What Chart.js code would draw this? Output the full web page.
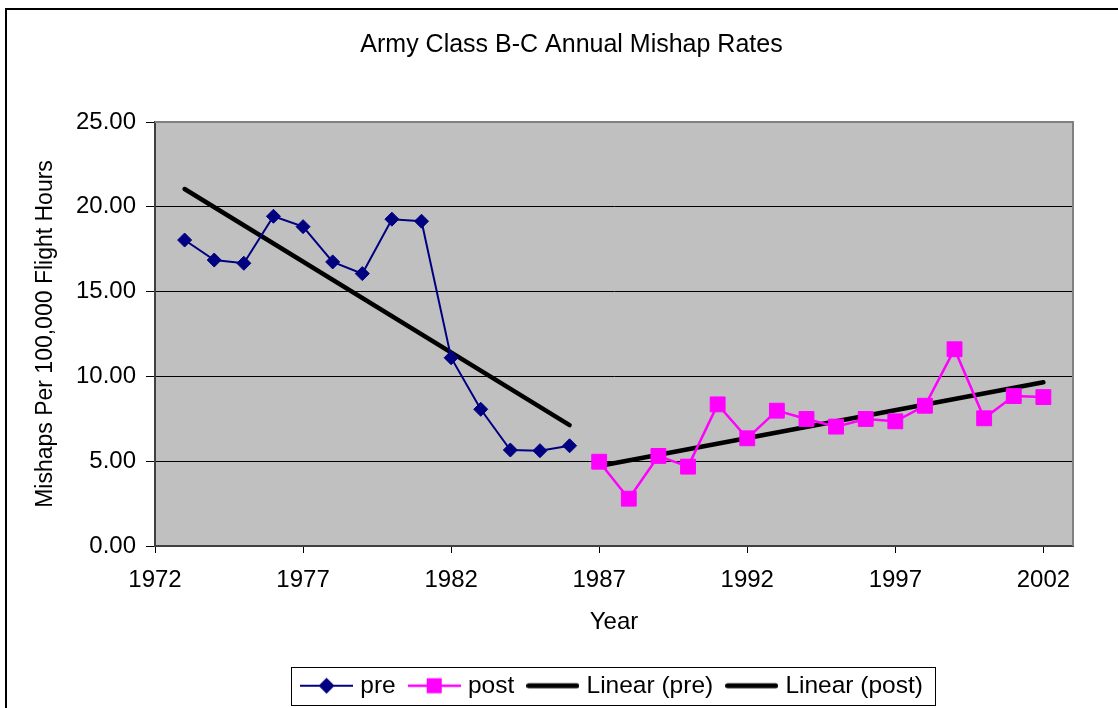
<!DOCTYPE html>
<html><head><meta charset="utf-8">
<script src="https://cdn.jsdelivr.net/npm/chart.js@4.4.1/dist/chart.umd.min.js"></script>
<style>html,body{margin:0;padding:0;background:#fff;} #wrap{width:1118px;height:708px;}</style>
</head><body><div id="wrap"><canvas id="c" width="1118" height="708"></canvas></div>
<script>
const preYears = [1973,1974,1975,1976,1977,1978,1979,1980,1981,1982,1983,1984,1985,1986];
const preRates = [18.04,16.86,16.67,19.44,18.83,16.75,16.06,19.27,19.15,11.10,8.06,5.66,5.62,5.91];
const postYears = [1987,1988,1989,1990,1991,1992,1993,1994,1995,1996,1997,1998,1999,2000,2001,2002];
const postRates = [4.97,2.79,5.31,4.68,8.35,6.35,7.98,7.49,7.04,7.49,7.35,8.27,11.60,7.53,8.84,8.78];
const trendPreYears = [1973,1986];
const trendPreRates = [21.05,7.13];
const trendPostYears = [1987,2002];
const trendPostRates = [4.72,9.65];
const xTickValues = [1972,1977,1982,1987,1992,1997,2002];
const seriesLabels = ['pre','post','Linear (pre)','Linear (post)'];
const chartTitle = 'Army Class B-C Annual Mishap Rates';
const xTitle = 'Year';
const yTitle = 'Mishaps Per 100,000 Flight Hours';

const FONT = "'Liberation Sans', Arial, sans-serif";
const pts = (xs, ys) => xs.map((x, i) => ({x: x, y: ys[i]}));

function makeSwatch(color, lineW, marker) {
  const cv = document.createElement('canvas'); cv.width = 53; cv.height = 24;
  const g = cv.getContext('2d');
  g.strokeStyle = color; g.lineWidth = lineW; g.lineCap = marker ? 'butt' : 'round';
  g.beginPath();
  g.moveTo(marker ? 0 : lineW / 2, 12); g.lineTo(marker ? 53 : 53 - lineW / 2, 12); g.stroke();
  g.fillStyle = color;
  if (marker === 'diamond') { g.beginPath(); g.moveTo(18.5, 12); g.lineTo(26.5, 4); g.lineTo(34.5, 12); g.lineTo(26.5, 20); g.closePath(); g.fill(); }
  if (marker === 'square') { g.fillRect(19, 4.5, 15, 15); }
  return cv;
}
const swatches = [
  makeSwatch('#000080', 2, 'diamond'),
  makeSwatch('#FF00FF', 2.5, 'square'),
  makeSwatch('#000000', 5, null),
  makeSwatch('#000000', 5, null)
];

const framePlugin = {
  id: 'frame',
  afterLayout(chart) {
    const ca = chart.chartArea;
    if (chart.legend) { chart.legend.left = ca.left; chart.legend.right = ca.right; }
    if (chart.titleBlock) { chart.titleBlock.left = 25; chart.titleBlock.right = 1118; }
  },
  beforeDraw(chart) {
    const {ctx, chartArea: ca} = chart;
    ctx.save();
    ctx.fillStyle = '#fff'; ctx.fillRect(0, 0, chart.width, chart.height);
    ctx.strokeStyle = '#000'; ctx.lineWidth = 2;
    ctx.strokeRect(6, 9, 1300, 900);
    ctx.fillStyle = '#C0C0C0';
    ctx.fillRect(ca.left, ca.top, ca.right - ca.left, ca.bottom - ca.top);
    ctx.restore();
  },
  beforeDatasetsDraw(chart) {
    const {ctx, chartArea: ca} = chart;
    ctx.save();
    ctx.strokeStyle = '#808080'; ctx.lineWidth = 2;
    ctx.beginPath();
    ctx.moveTo(ca.left, ca.top); ctx.lineTo(ca.right, ca.top); ctx.lineTo(ca.right, ca.bottom);
    ctx.stroke();
    ctx.restore();
  },
  afterDraw(chart) {
    const hb = chart.legend && chart.legend.legendHitBoxes;
    if (!hb || !hb.length) return;
    const ctx = chart.ctx;
    const first = hb[0], last = hb[hb.length - 1];
    const left = Math.round(first.left - 14) + 0.5;
    const right = Math.round(last.left + last.width + 12) + 0.5;
    const cy = first.top + 12;
    const top = Math.round(cy - 19) + 0.5, bottom = Math.round(cy + 19) + 0.5;
    ctx.save();
    ctx.strokeStyle = '#000'; ctx.lineWidth = 1;
    ctx.strokeRect(left, top, right - left, bottom - top);
    ctx.restore();
  }
};

new Chart(document.getElementById('c').getContext('2d'), {
  type: 'scatter',
  data: {
    datasets: [
      {label: seriesLabels[0], data: pts(preYears, preRates), showLine: true,
       borderColor: '#000080', backgroundColor: '#000080', borderWidth: 2,
       pointStyle: 'rectRot', pointRadius: 7, pointHoverRadius: 7, pointBorderWidth: 1},
      {label: seriesLabels[1], data: pts(postYears, postRates), showLine: true,
       borderColor: '#FF00FF', backgroundColor: '#FF00FF', borderWidth: 2.5,
       pointStyle: 'rect', pointRadius: 10.5, pointHoverRadius: 10.5, pointBorderWidth: 1},
      {label: seriesLabels[2], data: pts(trendPreYears, trendPreRates), showLine: true,
       borderColor: '#000', backgroundColor: '#000', borderWidth: 4.5, borderCapStyle: 'round',
       pointRadius: 0, pointHoverRadius: 0},
      {label: seriesLabels[3], data: pts(trendPostYears, trendPostRates), showLine: true,
       borderColor: '#000', backgroundColor: '#000', borderWidth: 4.5, borderCapStyle: 'round',
       pointRadius: 0, pointHoverRadius: 0}
    ]
  },
  options: {
    responsive: false, animation: false, devicePixelRatio: 1,
    layout: {padding: {left: 0, right: 45, top: 0, bottom: 0}},
    plugins: {
      title: {display: true, text: chartTitle, color: '#000',
        font: {family: FONT, size: 25, weight: 'normal'}, padding: {top: 30, bottom: 62}},
      legend: {position: 'bottom',
        labels: {usePointStyle: true, pointStyleWidth: 43, boxHeight: 24, padding: 17, color: '#000',
          font: {family: FONT, size: 24.5},
          generateLabels: (chart) => seriesLabels.map((t, i) => ({
            text: t, pointStyle: swatches[i], datasetIndex: i, fontColor: '#000',
            fillStyle: 'transparent', strokeStyle: 'transparent', lineWidth: 0, hidden: false
          }))}},
      tooltip: {enabled: false}
    },
    scales: {
      x: {type: 'linear', position: 'bottom', min: 1972, max: 2003,
        afterBuildTicks: (s) => { s.ticks = xTickValues.map(v => ({value: v})); },
        ticks: {color: '#000', font: {family: FONT, size: 24}, padding: 13, maxRotation: 0,
          callback: (v) => String(v)},
        grid: {drawOnChartArea: false, drawTicks: true, tickLength: 7, color: '#000'},
        border: {color: '#404040', width: 2},
        title: {display: true, text: xTitle, color: '#000', font: {family: FONT, size: 24},
          padding: {top: 4, bottom: 20}},
        afterFit: (s) => { s.height = 110.5; }
      },
      y: {min: 0, max: 25,
        ticks: {stepSize: 5, color: '#000', font: {family: FONT, size: 24}, padding: 10,
          callback: (v) => Number(v).toFixed(2)},
        grid: {color: '#000', lineWidth: 1, tickLength: 9},
        border: {color: '#404040', width: 2},
        title: {display: true, text: yTitle, color: '#000', font: {family: FONT, size: 23},
          padding: {top: 32, bottom: 0}},
        afterFit: (s) => { s.width = 155; }
      }
    }
  },
  plugins: [framePlugin]
});
</script>
</body></html>
